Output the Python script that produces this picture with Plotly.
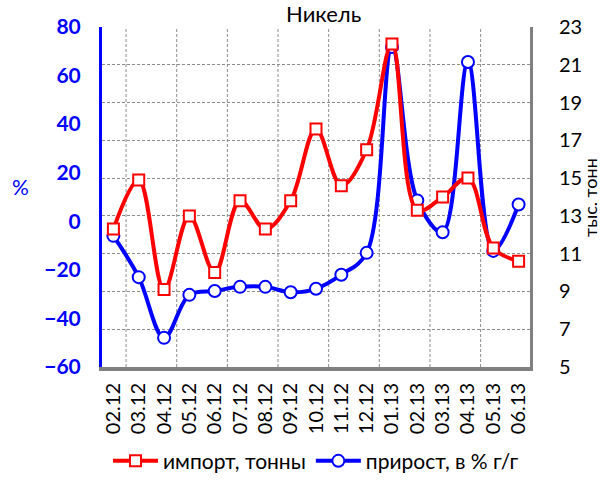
import plotly.graph_objects as go

# Monthly nickel data
months = ["02.12", "03.12", "04.12", "05.12", "06.12", "07.12", "08.12", "09.12",
          "10.12", "11.12", "12.12", "01.13", "02.13", "03.13", "04.13", "05.13", "06.13"]
import_kt = [12.3, 14.9, 9.1, 13.0, 10.0, 13.8, 12.3, 13.8, 17.6, 14.6, 16.5,
             22.1, 13.3, 14.0, 15.0, 11.3, 10.6]
growth_pct = [-6.0, -23.0, -48.0, -30.3, -28.7, -27.0, -27.0, -29.2, -27.8, -22.0,
              -13.0, 71.8, 8.6, -4.5, 65.6, -12.2, 6.9]

left_ticks = [-60, -40, -20, 0, 20, 40, 60, 80]
right_ticks = [5, 7, 9, 11, 13, 15, 17, 19, 21, 23]

FONT = "Lato, 'Noto Sans', sans-serif"
RED = "#ff0000"
BLUE = "#0000ff"
GRID = "#8c8c8c"

idx = list(range(len(months)))

fig = go.Figure()
fig.add_trace(go.Scatter(
    x=idx, y=import_kt, name="импорт, тонны", yaxis="y2",
    mode="lines+markers", line=dict(color=RED, width=4, shape="spline", smoothing=1.0),
    marker=dict(symbol="square", size=11, color="white", line=dict(color=RED, width=2)),
))
fig.add_trace(go.Scatter(
    x=idx, y=growth_pct, name="прирост, в % г/г", yaxis="y",
    mode="lines+markers", line=dict(color=BLUE, width=4, shape="spline", smoothing=1.0),
    marker=dict(symbol="circle", size=12, color="white", line=dict(color=BLUE, width=2)),
))

# vertical dashed grid at every second category boundary
for b in range(0, len(months) - 2, 2):
    fig.add_shape(type="line", xref="x", yref="paper", x0=b + 0.5, x1=b + 0.5,
                  y0=0, y1=1, line=dict(color=GRID, width=1, dash="3px,2px"), layer="below")

fig.update_layout(
    width=607, height=481,
    margin=dict(l=102, r=77, t=27, b=114, autoexpand=False),
    paper_bgcolor="white", plot_bgcolor="white",
    font=dict(family=FONT, color="black"),
    showlegend=True,
    legend=dict(orientation="h", x=0.5, xanchor="center", y=-0.277, yanchor="middle",
                font=dict(size=21, color="black"), itemwidth=45, tracegroupgap=0),
    xaxis=dict(
        range=[-0.45, len(months) - 0.55], tickmode="array", tickvals=idx, ticktext=months,
        tickangle=-90, tickfont=dict(size=20, color="black"), showgrid=False,
        showline=True, linecolor="#808080", linewidth=4, ticks="outside", ticklen=4,
        tickcolor="rgba(0,0,0,0)", zeroline=False,
    ),
    yaxis=dict(
        range=[-60, 80], tickmode="array", tickvals=left_ticks,
        tickfont=dict(size=21, color=BLUE, family=FONT, weight="bold"),
        showgrid=False, zeroline=False, showline=True, linecolor=BLUE, linewidth=3,
        ticks="outside", ticklen=14, tickcolor="rgba(0,0,0,0)",
    ),
    yaxis2=dict(
        range=[5, 23], tickmode="array", tickvals=right_ticks, overlaying="y", side="right",
        tickfont=dict(size=20, color="black"), showgrid=True, gridcolor=GRID, gridwidth=1,
        griddash="3px,2px", zeroline=False, showline=True, linecolor="#808080", linewidth=3,
        ticks="outside", ticklen=22, tickcolor="rgba(0,0,0,0)",
    ),
)

# chart title
fig.add_annotation(text="Никель", xref="paper", yref="paper", x=0.518, y=1.0,
                   yshift=29, showarrow=False, font=dict(size=22, color="black"),
                   xanchor="center", yanchor="top")
fig.add_annotation(text="%", xref="paper", yref="paper", x=-0.19, y=0.53,
                   showarrow=False, font=dict(size=21, color=BLUE), xanchor="center")
fig.add_annotation(text="тыс. тонн", xref="paper", yref="paper", x=1.14, y=0.5,
                   showarrow=False, textangle=-90, font=dict(size=18, color="black"),
                   xanchor="center", yanchor="middle")

fig.write_html("out.html")
